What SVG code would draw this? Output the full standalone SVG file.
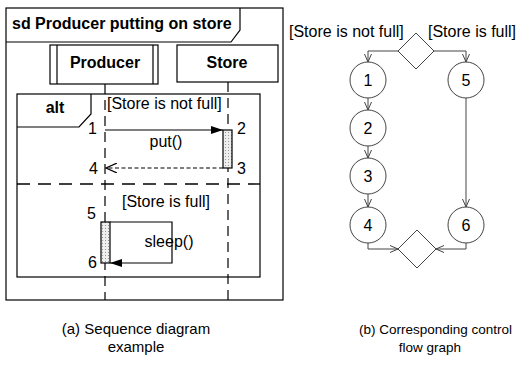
<svg xmlns="http://www.w3.org/2000/svg" width="517" height="369" viewBox="0 0 517 369">
<defs>
<style>
text{font-family:"Liberation Sans",Arial,sans-serif;fill:#000}
.b{font-weight:bold;font-size:16px}
.t{font-size:16px}
.capa{font-size:15px}
.capb{font-size:13.5px}
.ln{fill:none;stroke:#000;stroke-width:1.2}
.thin{fill:none;stroke:#444;stroke-width:1}
.ll{fill:none;stroke:#000;stroke-width:1.2;stroke-dasharray:10 6}
.sep{fill:none;stroke:#000;stroke-width:1.4;stroke-dasharray:13 8}
.circ{fill:#fff;stroke:#444;stroke-width:1}
.act{fill:url(#dots);stroke:#000;stroke-width:1.2}
</style>
<pattern id="dots" width="3" height="3" patternUnits="userSpaceOnUse"><rect width="3" height="3" fill="#eeeeee"/><rect width="1" height="1" fill="#999"/></pattern>
<marker id="fill" markerWidth="12" markerHeight="8" refX="12" refY="4" orient="auto" markerUnits="userSpaceOnUse"><path d="M0,0 L12,4 L0,8 z" fill="#000"/></marker>
<marker id="open" markerWidth="12" markerHeight="10" refX="11" refY="5" orient="auto" markerUnits="userSpaceOnUse"><path d="M0,0 L11,5 L0,10" fill="none" stroke="#000" stroke-width="1.2"/></marker>
<marker id="v" markerWidth="8" markerHeight="8" refX="8" refY="4" orient="auto" markerUnits="userSpaceOnUse"><path d="M0,0.5 L8,4 L0,7.5" fill="none" stroke="#444" stroke-width="1"/></marker>
</defs>

<g id="frame">
<rect x="6" y="8" width="277" height="292" class="ln"/>
<path d="M6,42 H231 L240,30 V8" class="ln"/>
<text x="12" y="29" class="b">sd Producer putting on store</text>
</g>

<g id="producer">
<rect x="50" y="45" width="108" height="39" class="ln"/>
<line x1="57" y1="45" x2="57" y2="84" class="ln"/>
<line x1="153" y1="45" x2="153" y2="84" class="ln"/>
<text x="105" y="68" class="b" text-anchor="middle">Producer</text>
</g>

<g id="store">
<rect x="177" y="45" width="101" height="37" class="ln"/>
<text x="227" y="68" class="b" text-anchor="middle">Store</text>
</g>

<g id="lifelines">
<line x1="105" y1="84" x2="105" y2="300" class="ll"/>
<line x1="228" y1="82" x2="228" y2="300" class="ll"/>
</g>

<g id="alt">
<rect x="17" y="94" width="243" height="183" class="ln"/>
<path d="M17,127 H79 L91,114 V94" class="ln"/>
<text x="55" y="113" class="b" text-anchor="middle">alt</text>
<text x="107" y="109" class="t">[Store is not full]</text>
<line x1="17" y1="184" x2="260" y2="184" class="sep"/>
<text x="166" y="207" class="t" text-anchor="middle">[Store is full]</text>
</g>

<g id="store-activation">
<rect x="223" y="130" width="9" height="38" class="act"/>
</g>

<g id="producer-activation">
<rect x="101" y="222" width="9" height="41" class="act"/>
</g>

<g id="messages">
<line x1="105" y1="130" x2="223" y2="130" class="ln" marker-end="url(#fill)"/>
<line x1="223" y1="168" x2="106" y2="168" class="ln" stroke-dasharray="4 2.5" marker-end="url(#open)"/>
<path d="M110,222 H172 V263 H110" class="ln" marker-end="url(#fill)"/>
<text x="166" y="147" class="t" text-anchor="middle">put()</text>
<text x="169" y="247" class="t" text-anchor="middle">sleep()</text>
<text x="97" y="134" class="t" text-anchor="end">1</text>
<text x="237" y="134" class="t">2</text>
<text x="237" y="174" class="t">3</text>
<text x="98" y="174" class="t" text-anchor="end">4</text>
<text x="96" y="219" class="t" text-anchor="end">5</text>
<text x="97" y="268" class="t" text-anchor="end">6</text>
</g>

<g id="decision">
<path d="M416,33 L434,51 L416,69 L398,51 Z" class="circ"/>
<text x="289" y="37" class="t">[Store is not full]</text>
<text x="428" y="37" class="t">[Store is full]</text>
</g>
<g id="n1"><circle cx="368" cy="80" r="18" class="circ"/><text x="368" y="86" class="t" text-anchor="middle">1</text></g>
<g id="n2"><circle cx="368" cy="128" r="18" class="circ"/><text x="368" y="134" class="t" text-anchor="middle">2</text></g>
<g id="n3"><circle cx="368" cy="176" r="18" class="circ"/><text x="368" y="182" class="t" text-anchor="middle">3</text></g>
<g id="n4"><circle cx="368" cy="225" r="18" class="circ"/><text x="368" y="231" class="t" text-anchor="middle">4</text></g>
<g id="n5"><circle cx="466" cy="80" r="18" class="circ"/><text x="466" y="86" class="t" text-anchor="middle">5</text></g>
<g id="n6"><circle cx="466" cy="225" r="18" class="circ"/><text x="466" y="231" class="t" text-anchor="middle">6</text></g>
<g id="merge">
<path d="M417,230 L436,249 L417,268 L398,249 Z" class="circ"/>
</g>

<g id="edges">
<path d="M398,51 H368 V62" class="thin" marker-end="url(#v)"/>
<path d="M434,51 H466 V62" class="thin" marker-end="url(#v)"/>
<path d="M368,98 V110" class="thin" marker-end="url(#v)"/>
<path d="M368,146 V158" class="thin" marker-end="url(#v)"/>
<path d="M368,194 V207" class="thin" marker-end="url(#v)"/>
<path d="M466,98 V207" class="thin" marker-end="url(#v)"/>
<path d="M368,243 V249 H398" class="thin" marker-end="url(#v)"/>
<path d="M466,243 V249 H436" class="thin" marker-end="url(#v)"/>
</g>

<g id="captions">
<text x="136" y="334" class="capa" text-anchor="middle">(a) Sequence diagram</text>
<text x="136" y="352" class="capa" text-anchor="middle">example</text>
<text x="512" y="334" class="capb" text-anchor="end">(b) Corresponding control</text>
<text x="430" y="352" class="capb" text-anchor="middle">flow graph</text>
</g>
</svg>
